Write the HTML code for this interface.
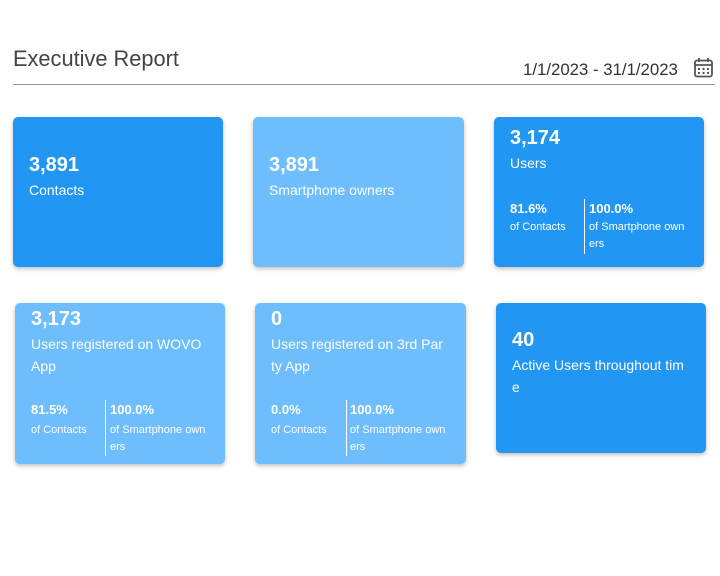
<!DOCTYPE html>
<html><head><style>
body{margin:0;width:720px;height:576px;background:#fff;font-family:"Liberation Sans",sans-serif;position:relative;overflow:hidden}
.a{position:absolute;white-space:nowrap}
.c{position:absolute;border-radius:5px;box-shadow:0 2px 4px rgba(0,0,0,.25);color:#fff}
.d{background:#2196F3}.l{background:#6EBDFC}
.n{position:absolute;font-weight:bold;font-size:20px;line-height:24px}
.t{position:absolute;font-size:14px;line-height:22px;white-space:nowrap}
.p{position:absolute;font-weight:bold;font-size:13px;line-height:16px}
.s{position:absolute;font-size:11px;line-height:17px;white-space:nowrap}
.v{position:absolute;width:1px;background:#fff}
</style></head><body>
<div class="a" style="left:13px;top:46px;font-size:21.8px;color:#444">Executive Report</div>
<div class="a" style="left:523px;top:60px;font-size:16.8px;color:#333">1/1/2023 - 31/1/2023</div>
<svg class="a" style="left:693px;top:57px" width="21" height="22" viewBox="0 0 21 22"><rect x="2" y="3.5" width="17" height="16" rx="2" fill="none" stroke="#555" stroke-width="1.8"/><line x1="2" y1="8" x2="19" y2="8" stroke="#555" stroke-width="1.8"/><line x1="6" y1="1" x2="6" y2="5" stroke="#555" stroke-width="1.8"/><line x1="15" y1="1" x2="15" y2="5" stroke="#555" stroke-width="1.8"/><g fill="#555"><rect x="5" y="11" width="2" height="2"/><rect x="9.5" y="11" width="2" height="2"/><rect x="14" y="11" width="2" height="2"/><rect x="5" y="15" width="2" height="2"/><rect x="9.5" y="15" width="2" height="2"/><rect x="14" y="15" width="2" height="2"/></g></svg>
<div class="a" style="left:13px;top:84px;width:702px;height:1px;background:#999"></div>

<div class="c d" style="left:13px;top:117px;width:210px;height:150px">
<div class="n" style="left:16px;top:36px">3,891</div><div class="t" style="left:16px;top:62px">Contacts</div></div>
<div class="c l" style="left:253px;top:117px;width:211px;height:150px">
<div class="n" style="left:16px;top:36px">3,891</div><div class="t" style="left:16px;top:62px">Smartphone owners</div></div>
<div class="c d" style="left:494px;top:117px;width:210px;height:150px">
<div class="n" style="left:16px;top:9px">3,174</div><div class="t" style="left:16px;top:35px">Users</div>
<div class="p" style="left:16px;top:84px">81.6%</div><div class="s" style="left:16px;top:102px">of Contacts</div>
<div class="v" style="left:90px;top:82px;height:55px"></div>
<div class="p" style="left:95px;top:84px">100.0%</div><div class="s" style="left:95px;top:102px">of Smartphone own<br>ers</div></div>

<div class="c l" style="left:15px;top:303px;width:210px;height:161px">
<div class="n" style="left:16px;top:4px">3,173</div><div class="t" style="left:16px;top:30px">Users registered on WOVO<br>App</div>
<div class="p" style="left:16px;top:99px">81.5%</div><div class="s" style="left:16px;top:119px">of Contacts</div>
<div class="v" style="left:90px;top:97px;height:56px"></div>
<div class="p" style="left:95px;top:99px">100.0%</div><div class="s" style="left:95px;top:119px">of Smartphone own<br>ers</div></div>
<div class="c l" style="left:255px;top:303px;width:211px;height:161px">
<div class="n" style="left:16px;top:4px">0</div><div class="t" style="left:16px;top:30px">Users registered on 3rd Par<br>ty App</div>
<div class="p" style="left:16px;top:99px">0.0%</div><div class="s" style="left:16px;top:119px">of Contacts</div>
<div class="v" style="left:91px;top:97px;height:56px"></div>
<div class="p" style="left:95px;top:99px">100.0%</div><div class="s" style="left:95px;top:119px">of Smartphone own<br>ers</div></div>
<div class="c d" style="left:496px;top:303px;width:210px;height:150px">
<div class="n" style="left:16px;top:25px">40</div><div class="t" style="left:16px;top:51px">Active Users throughout tim<br>e</div></div>
</body></html>
